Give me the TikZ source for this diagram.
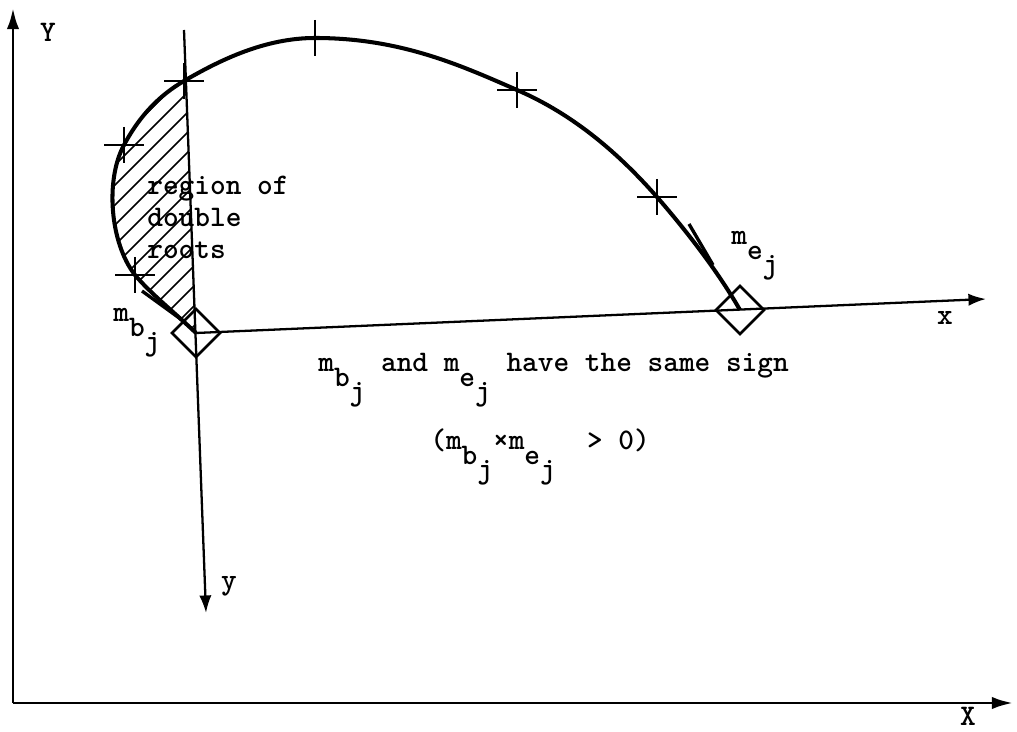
\documentclass[tikz,border=0pt]{standalone}
\usepackage{tikz}
\usetikzlibrary{arrows.meta}

\newcommand{\msub}[2]{m\raisebox{-8pt}{#1\raisebox{-8pt}{#2}}}
\newcommand{\rootcurve}{(O) .. controls (175,313) and (150,293) .. (c1)
  .. controls (110,243) and (105,180) .. (c2)
  .. controls (140,115) and (160,95) .. (c3)
  .. controls (220,60) and (265,38) .. (c4)
  .. controls (400,38) and (460,65) .. (c5)
  .. controls (575,115) and (620,155) .. (c6)
  .. controls (690,235) and (720,275) .. (E)}

\begin{document}
\begin{tikzpicture}[
  x=0.02cm,y=-0.02cm,
  bigaxis/.style={-{Latex[length=12pt,width=7pt]},line width=1.7pt},
  localaxis/.style={-{Latex[length=10pt,width=7pt]},line width=1.3pt},
  path line/.style={line width=2.3pt},
  tickmark/.style={line width=1.4pt},
  barb/.style={line width=1.9pt},
  hatch/.style={line width=1pt},
  knot/.style={draw,line width=1.5pt,shape=rectangle,rotate=45,minimum size=0.68cm,inner sep=0pt},
  lbl/.style={font=\fontsize{17}{18.2}\selectfont\ttfamily\bfseries,inner sep=0pt}
]
\useasboundingbox (0,0) rectangle (1017,732);
\coordinate (corner) at (13,703);
\coordinate (Yend) at (13,8);
\coordinate (Xend) at (1013,703);
\coordinate (O) at (196,333);
\coordinate (E) at (740,310);
\coordinate (xend) at (986,299);
\coordinate (ytop) at (184,30);
\coordinate (yend) at (206,613);
\coordinate (c1) at (135,275);
\coordinate (c2) at (124,145);
\coordinate (c3) at (184,81);
\coordinate (c4) at (315,38);
\coordinate (c5) at (517,90);
\coordinate (c6) at (657,197);
\draw[bigaxis] (corner) -- (Yend);
\draw[bigaxis] (corner) -- (Xend);
\node[lbl] (Ylab) at (48,32) {Y};
\node[lbl] (Xlab) at (968,716) {X};
\begin{scope}
  \clip \rootcurve -- cycle;
  \clip (0,0) -| (ytop) -- (yend) -| (0,0);
  \foreach \a in {-240,-220,...,160}
    \draw[hatch] (\a,400) -- ++(400,-400);
\end{scope}
\draw[localaxis] (O) -- (xend);
\draw[localaxis] (ytop) -- (yend);
\node[lbl] (xlab) at (945,318) {x};
\node[lbl] (ylab) at (229,586) {y};
\draw[path line] \rootcurve;
\foreach \i in {1,...,6}
  \draw[tickmark] (c\i) ++(-20,0) -- ++(40,0) (c\i) ++(0,-18) -- ++(0,36);
\draw[barb] (142,291) -- (182,320);
\draw[barb] (689,224) -- (713,265);
\node[knot] (db) at (O) {};
\node[knot] (de) at (E) {};
\node[lbl,anchor=base west] (mb) at (113,322) {\msub{b}{j}};
\node[lbl,anchor=base west] (me) at (731,245) {\msub{e}{j}};
\node[lbl,anchor=north west,align=left] (region) at (147,176) {region of\\double\\roots};
\node[lbl,anchor=base west] (samesign) at (318,372) {\msub{b}{j} and \msub{e}{j} have the same sign};
\node[lbl,anchor=base west] (product) at (430,450) {(\msub{b}{j}×\msub{e}{j}\ \ > 0)};
\end{tikzpicture}
\end{document}
